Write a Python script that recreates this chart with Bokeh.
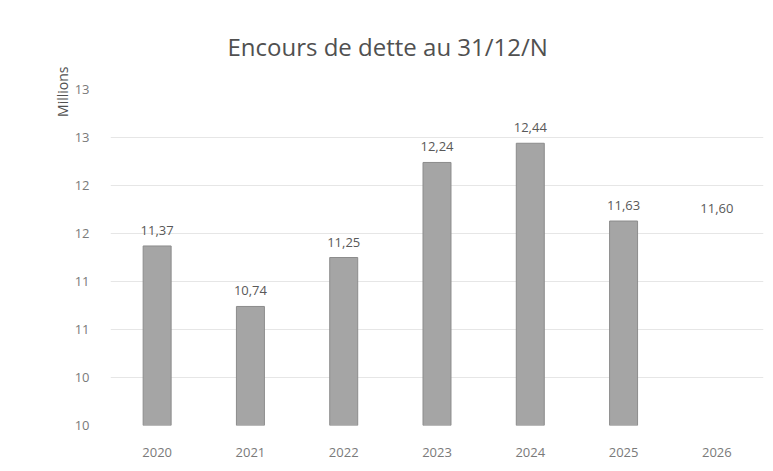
from bokeh.plotting import figure
from bokeh.models import Range1d, FixedTicker, ColumnDataSource, Title
from bokeh.core.properties import value
from bokeh.embed import file_html
from bokeh.resources import INLINE

years = ["2020", "2021", "2022", "2023", "2024", "2025", "2026"]
encours = [11.37, 10.74, 11.25, 12.24, 12.44, 11.63, 11.60]  # millions
labels = ["11,37", "10,74", "11,25", "12,24", "12,44", "11,63", "11,60"]
bar_alpha = [1, 1, 1, 1, 1, 1, 0]  # 2026 bar is not drawn in the original
y_ticks = [9.5, 10.0, 10.5, 11.0, 11.5, 12.0, 12.5, 13.0]
y_tick_labels = ["10", "10", "11", "11", "12", "12", "13", "13"]

FONT = "Open Sans"

src = ColumnDataSource(dict(x=years, top=encours, lab=labels, a=bar_alpha))

p = figure(width=765, height=463, x_range=years, y_range=Range1d(9.5, 13.0),
           output_backend="svg", toolbar_location=None,
           min_border_left=110, min_border_right=2, min_border_top=89, min_border_bottom=38)

t = Title(text="Encours de dette au 31/12/N", align="left", offset=117,
          text_font=FONT, text_font_style="normal", text_font_size="24px",
          text_color="#505050", standoff=54)
p.add_layout(t, "above")

p.add_layout(Title(text="Millions", align="right", offset=-23, standoff=0,
                   text_font=FONT, text_font_style="normal", text_font_size="14px",
                   text_color="#505050"), "left")

p.vbar(x="x", top="top", bottom=9.5, width=0.3, source=src,
       fill_color="#a5a5a5", line_color="#8c8c8c", line_width=1,
       fill_alpha="a", line_alpha="a")

p.text(x="x", y="top", text="lab", source=src, text_align="center",
       text_baseline="bottom", y_offset=-11, text_font=value(FONT),
       text_font_size="13px", text_color="#595959")

p.yaxis.ticker = FixedTicker(ticks=y_ticks)
p.yaxis.major_label_overrides = {t: l for t, l in zip(y_ticks, y_tick_labels)}
for ax in (p.xaxis, p.yaxis):
    ax.axis_line_color = None
    ax.major_tick_line_color = None
    ax.minor_tick_line_color = None
    ax.major_label_text_font = FONT
    ax.major_label_text_font_size = "13px"
    ax.major_label_text_color = "#7a7a7a"
p.yaxis.major_label_standoff = 15
p.xaxis.major_label_standoff = 16

p.xgrid.grid_line_color = None
p.ygrid.ticker = FixedTicker(ticks=y_ticks)
p.ygrid.grid_line_color = "#e6e6e6"
p.outline_line_color = None
p.x_range.range_padding = 0.0

open("out.html", "w").write(file_html(p, INLINE))
